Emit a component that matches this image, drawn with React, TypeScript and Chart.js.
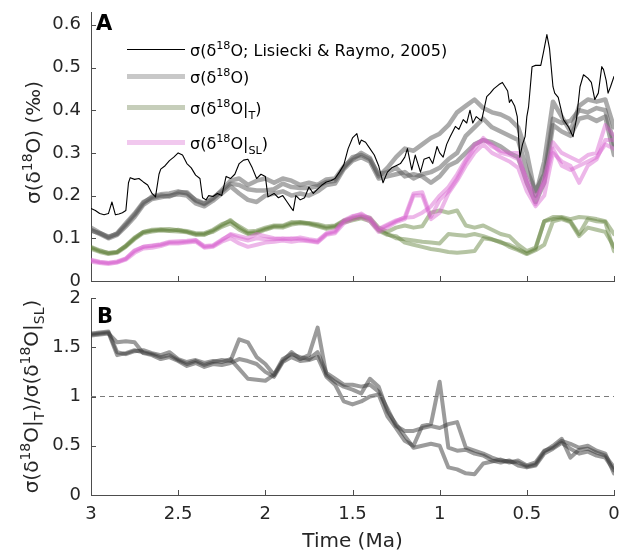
import React, { useEffect, useRef } from 'react';
import { Chart, registerables } from 'chart.js';
Chart.register(...registerables);

const FONT = "'DejaVu Sans', 'Liberation Sans', sans-serif";
const AX = '#4d4d4d';
const TXT = '#262626';

// ---------- tick values ----------
const X_TICKS = [3, 2.5, 2, 1.5, 1, 0.5, 0];
const A_Y_TICKS = [0, 0.1, 0.2, 0.3, 0.4, 0.5, 0.6];
const B_Y_TICKS = [0, 0.5, 1, 1.5, 2];

// ---------- LR05 sigma (black) ----------
const LR_T = [3.000,2.975,2.950,2.925,2.900,2.880,2.860,2.840,2.820,2.800,
  2.785,2.775,2.750,2.725,2.700,2.675,2.650,2.630,2.610,2.600,
  2.575,2.550,2.525,2.500,2.475,2.450,2.425,2.400,2.375,2.360,
  2.340,2.325,2.300,2.275,2.250,2.225,2.200,2.175,2.150,2.125,
  2.100,2.075,2.050,2.025,2.000,1.985,1.950,1.925,1.900,1.875,
  1.850,1.840,1.825,1.800,1.775,1.750,1.725,1.700,1.675,1.650,
  1.625,1.600,1.575,1.550,1.525,1.500,1.475,1.460,1.450,1.425,
  1.400,1.375,1.350,1.325,1.300,1.275,1.250,1.225,1.200,1.185,
  1.160,1.140,1.110,1.090,1.060,1.040,1.015,1.000,0.980,0.960,
  0.940,0.910,0.890,0.865,0.845,0.826,0.810,0.790,0.760,0.730,
  0.710,0.690,0.660,0.640,0.625,0.610,0.600,0.590,0.570,0.555,
  0.540,0.525,0.510,0.500,0.490,0.470,0.450,0.420,0.405,0.385,
  0.370,0.350,0.340,0.320,0.290,0.260,0.235,0.215,0.195,0.175,
  0.150,0.130,0.110,0.090,0.070,0.060,0.045,0.034,0.020,0.000];
const LR_SIGMA = [0.170,0.165,0.158,0.155,0.158,0.185,0.155,0.157,0.160,0.165,
  0.230,0.242,0.238,0.240,0.232,0.225,0.205,0.197,0.250,0.262,
  0.270,0.282,0.290,0.300,0.295,0.275,0.265,0.248,0.240,0.195,
  0.190,0.200,0.198,0.205,0.200,0.245,0.240,0.250,0.275,0.283,
  0.285,0.265,0.240,0.250,0.245,0.197,0.205,0.195,0.200,0.185,
  0.170,0.165,0.200,0.190,0.195,0.220,0.205,0.215,0.225,0.232,
  0.235,0.240,0.255,0.272,0.310,0.335,0.345,0.320,0.330,0.325,
  0.310,0.295,0.270,0.230,0.255,0.265,0.270,0.275,0.290,0.310,
  0.260,0.295,0.255,0.285,0.290,0.275,0.315,0.300,0.290,0.320,
  0.338,0.362,0.355,0.378,0.370,0.400,0.370,0.385,0.375,0.432,
  0.440,0.450,0.460,0.465,0.455,0.445,0.418,0.425,0.410,0.385,
  0.290,0.320,0.338,0.385,0.408,0.502,0.505,0.505,0.535,0.577,
  0.545,0.455,0.440,0.430,0.378,0.360,0.338,0.380,0.455,0.483,
  0.475,0.465,0.425,0.440,0.502,0.495,0.470,0.440,0.455,0.479];

// ---------- common time axis for realizations ----------
const T = [3.00,2.95,2.90,2.85,2.80,2.75,2.70,2.65,2.60,2.55,
  2.50,2.45,2.40,2.35,2.30,2.25,2.20,2.15,2.10,2.05,
  2.00,1.95,1.90,1.85,1.80,1.75,1.70,1.65,1.60,1.55,
  1.50,1.45,1.40,1.35,1.30,1.25,1.20,1.15,1.10,1.05,
  1.00,0.95,0.90,0.85,0.80,0.75,0.70,0.65,0.60,0.55,
  0.50,0.45,0.40,0.35,0.30,0.25,0.20,0.15,0.10,0.05,0.00];

// sigma(d18O) realizations (gray)
const GRAY_1 = [.125,.113,.102,.112,.135,.158,.185,.195,.200,.198,
  .207,.208,.188,.180,.193,.213,.235,.240,.225,.235,
  .240,.230,.240,.235,.225,.230,.225,.238,.240,.268,
  .285,.300,.288,.245,.265,.290,.310,.305,.320,.335,
  .345,.365,.395,.410,.425,.405,.395,.390,.380,.360,
  .300,.200,.280,.420,.385,.350,.410,.425,.420,.425,.360];
const GRAY_2 = [.120,.110,.100,.108,.128,.150,.178,.192,.196,.200,
  .203,.200,.182,.175,.188,.205,.222,.205,.190,.185,
  .200,.205,.210,.200,.205,.200,.210,.225,.228,.262,
  .282,.290,.280,.240,.245,.250,.255,.240,.250,.255,
  .265,.285,.300,.340,.360,.380,.360,.350,.340,.330,
  .260,.210,.250,.380,.370,.375,.400,.395,.405,.400,.320];
const GRAY_3 = [.118,.112,.104,.110,.132,.155,.182,.198,.203,.205,
  .210,.205,.190,.182,.195,.210,.228,.225,.215,.212,
  .212,.215,.228,.220,.218,.218,.222,.232,.235,.265,
  .290,.295,.285,.250,.255,.265,.245,.250,.245,.230,
  .245,.270,.280,.300,.320,.330,.325,.315,.300,.290,
  .230,.185,.230,.365,.350,.340,.380,.385,.375,.385,.295];

// sigma(d18O|T) realizations (green)
const GREEN_1 = [.080,.072,.065,.068,.082,.100,.115,.118,.120,.118,
  .120,.115,.110,.108,.118,.130,.143,.125,.112,.115,
  .122,.128,.128,.135,.138,.135,.130,.125,.128,.140,
  .145,.150,.145,.120,.110,.100,.098,.095,.092,.090,
  .088,.110,.108,.106,.110,.105,.098,.090,.085,.075,
  .065,.075,.140,.145,.148,.140,.110,.145,.140,.138,.070];
const GREEN_2 = [.075,.068,.063,.066,.080,.098,.112,.116,.118,.117,
  .116,.114,.108,.110,.115,.127,.135,.120,.110,.112,
  .120,.126,.125,.132,.135,.133,.128,.122,.126,.137,
  .142,.147,.140,.118,.108,.105,.090,.085,.080,.075,
  .072,.068,.066,.068,.070,.100,.097,.092,.080,.072,
  .063,.072,.085,.140,.145,.138,.105,.125,.120,.115,.080];
const GREEN_3 = [.078,.070,.066,.068,.083,.102,.115,.120,.121,.122,
  .119,.117,.112,.112,.120,.133,.140,.128,.116,.118,
  .125,.130,.130,.138,.137,.136,.133,.128,.130,.142,
  .148,.152,.148,.125,.115,.125,.130,.125,.128,.160,
  .165,.160,.165,.130,.125,.130,.120,.110,.105,.085,
  .070,.078,.140,.150,.150,.145,.150,.148,.145,.140,.110];

// sigma(d18O|SL) realizations (pink)
const PINK_1 = [.050,.045,.042,.044,.052,.070,.080,.082,.085,.090,
  .090,.092,.095,.080,.082,.095,.110,.105,.100,.110,
  .105,.100,.098,.100,.098,.095,.092,.110,.115,.140,
  .150,.158,.145,.120,.130,.140,.150,.205,.208,.150,
  .190,.210,.240,.280,.310,.335,.315,.305,.300,.300,
  .230,.180,.240,.325,.300,.290,.280,.295,.300,.365,.340];
const PINK_2 = [.045,.042,.040,.043,.050,.066,.076,.078,.082,.088,
  .088,.090,.092,.078,.080,.092,.100,.088,.080,.085,
  .090,.092,.095,.092,.095,.093,.090,.108,.112,.135,
  .145,.150,.140,.115,.125,.138,.145,.200,.200,.145,
  .160,.205,.235,.270,.300,.320,.300,.290,.280,.265,
  .210,.175,.200,.300,.280,.270,.230,.270,.285,.330,.330];
const PINK_3 = [.048,.044,.043,.046,.053,.072,.080,.083,.086,.092,
  .093,.094,.096,.082,.084,.097,.108,.100,.095,.100,
  .098,.098,.100,.098,.102,.098,.095,.112,.118,.142,
  .152,.155,.148,.122,.132,.142,.148,.150,.160,.175,
  .200,.220,.250,.285,.320,.330,.320,.300,.295,.285,
  .240,.195,.230,.310,.270,.260,.270,.280,.290,.320,.310];

// ratio sigma(T)/sigma(SL) realizations
const RATIO_1 = [1.63,1.64,1.65,1.42,1.44,1.47,1.45,1.43,1.40,1.42,
  1.37,1.33,1.36,1.32,1.35,1.37,1.36,1.58,1.55,1.40,
  1.33,1.22,1.36,1.45,1.38,1.42,1.70,1.22,1.15,1.10,
  1.07,1.03,1.18,1.10,0.85,0.72,0.60,0.48,0.50,0.52,
  0.50,0.28,0.26,0.22,0.21,0.32,0.34,0.36,0.33,0.35,
  0.30,0.33,0.45,0.48,0.55,0.52,0.48,0.50,0.45,0.42,0.22];
const RATIO_2 = [1.62,1.63,1.64,1.55,1.56,1.55,1.44,1.42,1.38,1.40,
  1.36,1.31,1.34,1.30,1.33,1.32,1.34,1.38,1.36,1.33,
  1.25,1.20,1.35,1.40,1.36,1.37,1.40,1.20,1.12,0.95,
  0.92,0.95,1.00,1.02,0.80,0.68,0.55,0.50,0.70,0.72,
  1.15,0.48,0.45,0.46,0.42,0.40,0.35,0.33,0.35,0.30,
  0.28,0.30,0.42,0.47,0.53,0.47,0.42,0.44,0.40,0.38,0.25];
const RATIO_3 = [1.64,1.65,1.66,1.45,1.43,1.46,1.47,1.44,1.42,1.45,
  1.38,1.35,1.37,1.34,1.36,1.35,1.38,1.28,1.18,1.17,
  1.16,1.22,1.38,1.43,1.40,1.38,1.45,1.24,1.18,1.12,
  1.12,1.10,1.12,1.05,0.88,0.70,0.65,0.65,0.68,0.70,
  0.68,0.72,0.74,0.48,0.45,0.42,0.38,0.35,0.34,0.33,
  0.29,0.31,0.44,0.50,0.57,0.38,0.46,0.47,0.43,0.40,0.28];

const REF_X = [3, 0];
const REF_Y = [1, 1];

// ---------- helpers ----------
const pts = (xs: number[], ys: number[]) => xs.map((x, i) => ({ x, y: ys[i] }));

type Seg = [string, number]; // 0 normal, 1 superscript, 2 subscript

function richWidth(ctx: CanvasRenderingContext2D, segs: Seg[], size: number) {
  let w = 0;
  for (const [t, k] of segs) {
    ctx.font = `${k ? size * 0.7 : size}px ${FONT}`;
    w += ctx.measureText(t).width;
  }
  return w;
}
function drawRich(ctx: CanvasRenderingContext2D, segs: Seg[], x: number, y: number, size: number) {
  let cx = x;
  ctx.textBaseline = 'alphabetic';
  ctx.textAlign = 'left';
  for (const [t, k] of segs) {
    const s = k ? size * 0.7 : size;
    ctx.font = `${s}px ${FONT}`;
    const dy = k === 1 ? -size * 0.42 : k === 2 ? size * 0.3 : 0;
    ctx.fillText(t, cx, y + dy);
    cx += ctx.measureText(t).width;
  }
}
function drawRotated(ctx: CanvasRenderingContext2D, segs: Seg[], x: number, cy: number, size: number) {
  const w = richWidth(ctx, segs, size);
  ctx.save();
  ctx.translate(x, cy);
  ctx.rotate(-Math.PI / 2);
  drawRich(ctx, segs, -w / 2, 0, size);
  ctx.restore();
}

function drawInwardTicks(chart: any) {
  const { ctx, chartArea } = chart;
  const xs = chart.scales.x, ys = chart.scales.y;
  ctx.save();
  ctx.strokeStyle = AX;
  ctx.lineWidth = 1;
  ctx.beginPath();
  xs.ticks.forEach((t: any) => {
    const px = Math.round(xs.getPixelForValue(t.value)) + 0.5;
    ctx.moveTo(px, chartArea.bottom);
    ctx.lineTo(px, chartArea.bottom - 5);
  });
  ys.ticks.forEach((t: any) => {
    const py = Math.round(ys.getPixelForValue(t.value)) + 0.5;
    ctx.moveTo(chartArea.left, py);
    ctx.lineTo(chartArea.left + 5, py);
  });
  ctx.stroke();
  ctx.restore();
}

const LEGEND: { segs: Seg[]; color: string; width: number; y: number }[] = [
  { segs: [['σ(δ', 0], ['18', 1], ['O; Lisiecki & Raymo, 2005)', 0]], color: '#000000', width: 1, y: 49 },
  { segs: [['σ(δ', 0], ['18', 1], ['O)', 0]], color: 'rgb(200,200,200)', width: 5, y: 76 },
  { segs: [['σ(δ', 0], ['18', 1], ['O|', 0], ['T', 2], [')', 0]], color: 'rgb(198,206,186)', width: 5, y: 107 },
  { segs: [['σ(δ', 0], ['18', 1], ['O|', 0], ['SL', 2], [')', 0]], color: 'rgb(241,200,238)', width: 5, y: 142 },
];

const decorA = {
  id: 'decorA',
  afterDraw(chart: any) {
    const { ctx, chartArea } = chart;
    drawInwardTicks(chart);
    ctx.save();
    ctx.fillStyle = '#000';
    ctx.font = `bold 21px ${FONT}`;
    ctx.textBaseline = 'alphabetic';
    ctx.fillText('A', 96, 30);
    for (const item of LEGEND) {
      ctx.strokeStyle = item.color;
      ctx.lineWidth = item.width;
      ctx.beginPath();
      ctx.moveTo(127, item.y + 0.5);
      ctx.lineTo(185, item.y + 0.5);
      ctx.stroke();
      ctx.fillStyle = '#000';
      drawRich(ctx, item.segs, 190, item.y + 7, 16);
    }
    ctx.fillStyle = TXT;
    drawRotated(ctx, [['σ(δ', 0], ['18', 1], ['O) (‰)', 0]], 40, (chartArea.top + chartArea.bottom) / 2 - 4, 20);
    ctx.restore();
  },
};

const decorB = {
  id: 'decorB',
  afterDraw(chart: any) {
    const { ctx, chartArea } = chart;
    drawInwardTicks(chart);
    ctx.save();
    ctx.fillStyle = '#000';
    ctx.font = `bold 21px ${FONT}`;
    ctx.textBaseline = 'alphabetic';
    ctx.fillText('B', 97, 38);
    ctx.fillStyle = TXT;
    drawRotated(ctx, [['σ(δ', 0], ['18', 1], ['O|', 0], ['T', 2], [')/σ(δ', 0], ['18', 1], ['O|', 0], ['SL', 2], [')', 0]], 38, (chartArea.top + chartArea.bottom) / 2, 20);
    ctx.font = `20px ${FONT}`;
    ctx.textAlign = 'center';
    ctx.fillText('Time (Ma)', (chartArea.left + chartArea.right) / 2, 262);
    ctx.restore();
  },
};

const lineDs = (data: any[], color: string, width: number, order: number) => ({
  data,
  borderColor: color,
  borderWidth: width,
  pointRadius: 0,
  fill: false,
  tension: 0,
  borderJoinStyle: 'round' as const,
  borderCapStyle: 'round' as const,
  order,
});

const fmt = (v: any) => String(+Number(v).toFixed(2));

function xScale(showLabels: boolean, height: number) {
  return {
    type: 'linear' as const,
    min: 0,
    max: 3,
    reverse: true,
    grid: { display: false, drawTicks: false },
    border: { display: true, color: AX, width: 1 },
    ticks: { display: showLabels, padding: 10, color: TXT, autoSkip: false, maxRotation: 0, font: { family: FONT, size: 18, lineHeight: 1 }, callback: fmt },
    afterBuildTicks: (s: any) => { s.ticks = X_TICKS.map((v) => ({ value: v })); },
    afterFit: (s: any) => { s.height = height; s.paddingLeft = 0; s.paddingRight = 0; },
  };
}
function yScale(min: number, max: number, ticks: number[]) {
  return {
    type: 'linear' as const,
    min,
    max,
    grid: { display: false, drawTicks: false },
    border: { display: true, color: AX, width: 1 },
    ticks: { padding: 10, color: TXT, autoSkip: false, font: { family: FONT, size: 18, lineHeight: 1 }, callback: fmt },
    afterBuildTicks: (s: any) => { s.ticks = ticks.map((v) => ({ value: v })); },
    afterFit: (s: any) => { s.width = 91; s.paddingTop = 0; s.paddingBottom = 0; },
  };
}

const GRAY_C = 'rgba(85,85,85,0.5)';
const GREEN_C = 'rgba(92,124,52,0.45)';
const PINK_C = 'rgba(214,96,206,0.45)';
const RATIO_C = 'rgba(55,55,55,0.5)';

export default function App() {
  const refA = useRef<HTMLCanvasElement>(null);
  const refB = useRef<HTMLCanvasElement>(null);

  useEffect(() => {
    const chartA = new Chart(refA.current!, {
      type: 'line',
      data: {
        datasets: [
          lineDs(pts(LR_T, LR_SIGMA), '#000000', 1.1, 0),
          lineDs(pts(T, PINK_1), PINK_C, 4, 1),
          lineDs(pts(T, PINK_2), PINK_C, 4, 1),
          lineDs(pts(T, PINK_3), PINK_C, 4, 1),
          lineDs(pts(T, GREEN_1), GREEN_C, 4, 2),
          lineDs(pts(T, GREEN_2), GREEN_C, 4, 2),
          lineDs(pts(T, GREEN_3), GREEN_C, 4, 2),
          lineDs(pts(T, GRAY_1), GRAY_C, 4.5, 3),
          lineDs(pts(T, GRAY_2), GRAY_C, 4.5, 3),
          lineDs(pts(T, GRAY_3), GRAY_C, 4.5, 3),
        ] as any,
      },
      options: {
        animation: false,
        responsive: false,
        layout: { padding: { left: 0, right: 6, top: 12, bottom: 0 } },
        plugins: { legend: { display: false }, tooltip: { enabled: false } },
        scales: { x: xScale(false, 19), y: yScale(0, 0.63, A_Y_TICKS) } as any,
      },
      plugins: [decorA],
    });

    const chartB = new Chart(refB.current!, {
      type: 'line',
      data: {
        datasets: [
          { ...lineDs(pts(REF_X, REF_Y), '#7a7a7a', 1, 0), borderDash: [5, 4], borderCapStyle: 'butt' },
          lineDs(pts(T, RATIO_1), RATIO_C, 4, 1),
          lineDs(pts(T, RATIO_2), RATIO_C, 4, 1),
          lineDs(pts(T, RATIO_3), RATIO_C, 4, 1),
        ] as any,
      },
      options: {
        animation: false,
        responsive: false,
        layout: { padding: { left: 0, right: 6, top: 13, bottom: 0 } },
        plugins: { legend: { display: false }, tooltip: { enabled: false } },
        scales: { x: xScale(true, 55), y: yScale(0, 2, B_Y_TICKS) } as any,
      },
      plugins: [decorB],
    });

    return () => {
      chartA.destroy();
      chartB.destroy();
    };
  }, []);

  return (
    <div style={{ position: 'fixed', left: 0, top: 0, width: 620, height: 550, background: '#fff', overflow: 'hidden' }}>
      <canvas ref={refA} width={620} height={300} style={{ position: 'absolute', left: 0, top: 0, width: 620, height: 300 }} />
      <canvas ref={refB} width={620} height={265} style={{ position: 'absolute', left: 0, top: 285, width: 620, height: 265 }} />
    </div>
  );
}
